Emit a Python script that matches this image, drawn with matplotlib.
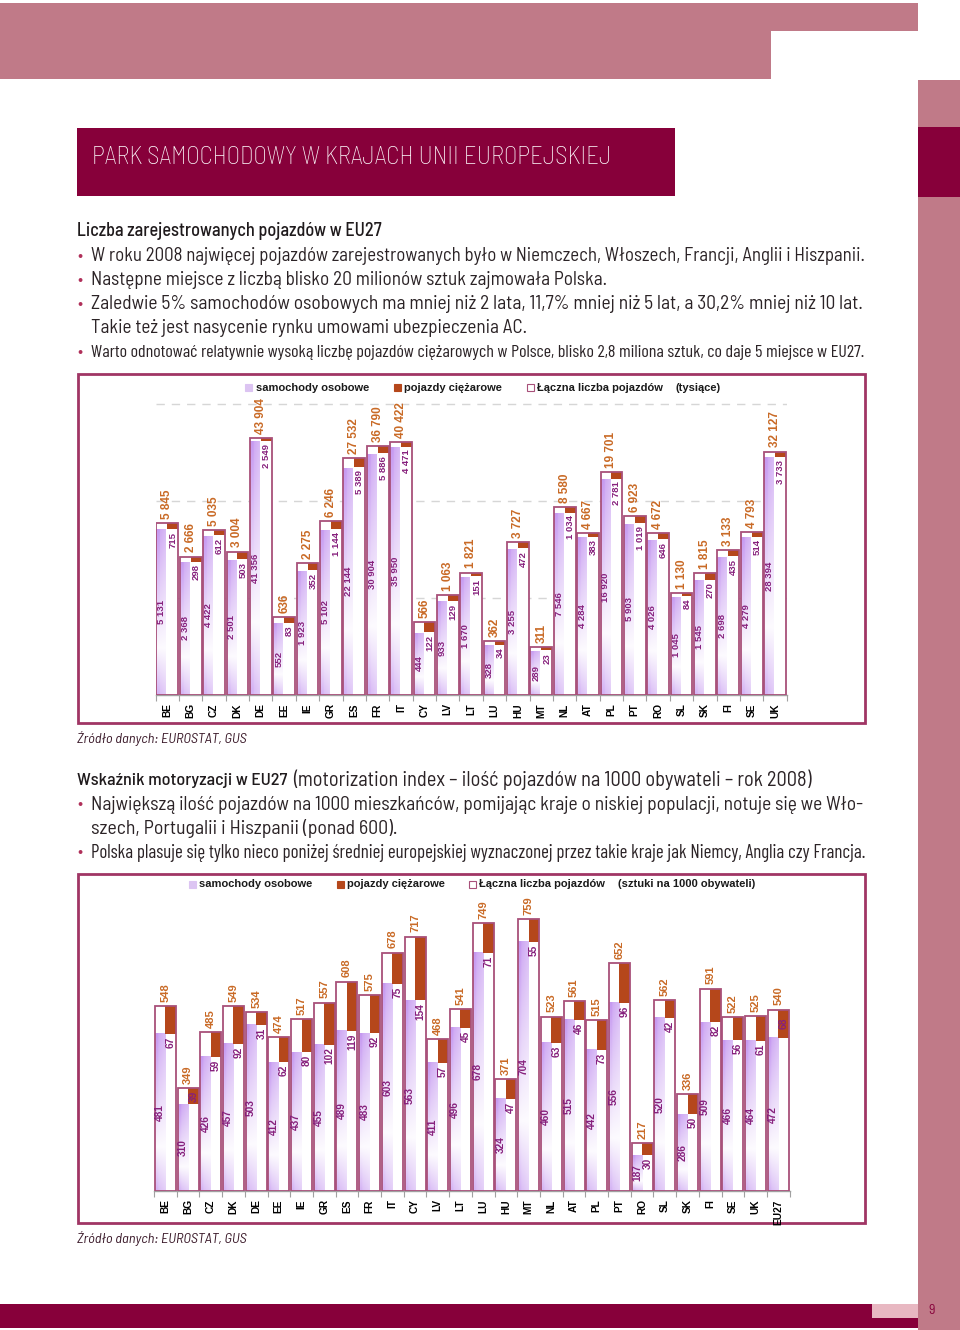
import numpy as np
import matplotlib
import matplotlib.pyplot as plt
from matplotlib.patches import Rectangle
from matplotlib.ticker import NullLocator

# --- dane: liczba pojazdow (tysiace) ---
kraje1 = ['BE', 'BG', 'CZ', 'DK', 'DE', 'EE', 'IE', 'GR', 'ES', 'FR', 'IT', 'CY', 'LV', 'LT',
          'LU', 'HU', 'MT', 'NL', 'AT', 'PL', 'PT', 'RO', 'SL', 'SK', 'FI', 'SE', 'UK']
razem1 = [5845, 2666, 5035, 3004, 43904, 636, 2275, 6246, 27532, 36790, 40422, 566, 1063, 1821,
          362, 3727, 311, 8580, 4667, 19701, 6923, 4672, 1130, 1815, 3133, 4793, 32127]
osobowe1 = [5131, 2368, 4422, 2501, 41356, 552, 1923, 5102, 22144, 30904, 35950, 444, 933, 1670,
            328, 3255, 289, 7546, 4284, 16920, 5903, 4026, 1045, 1545, 2698, 4279, 28394]
ciezarowe1 = [715, 298, 612, 503, 2549, 83, 352, 1144, 5389, 5886, 4471, 122, 129, 151,
              34, 472, 23, 1034, 383, 2781, 1019, 646, 84, 270, 435, 514, 3733]

# --- dane: wskaznik motoryzacji (na 1000 obywateli) ---
kraje2 = kraje1 + ['EU27']
razem2 = [548, 349, 485, 549, 534, 474, 517, 557, 608, 575, 678, 717, 468, 541,
          749, 371, 759, 523, 561, 515, 652, 217, 562, 336, 591, 522, 525, 540]
osobowe2 = [481, 310, 426, 457, 503, 412, 437, 455, 489, 483, 603, 563, 411, 496,
            678, 324, 704, 460, 515, 442, 556, 187, 520, 286, 509, 466, 464, 472]
ciezarowe2 = [67, 39, 59, 92, 31, 62, 80, 102, 119, 92, 75, 154, 57, 45,
              71, 47, 55, 63, 46, 73, 96, 30, 42, 50, 82, 56, 61, 68]

W, H = 960, 1330
ROZ = '#c07a88'
BORDO = '#87003a'
BRAZ = '#b5471b'
OBRYS = '#a8507a'
POMAR = '#c96a26'
FIOLET = '#86207c'
purple = np.array([196, 150, 240]) / 255.0

tekst_font = ['Barlow Semi Condensed', 'Roboto Condensed', 'Lato', 'DejaVu Sans']
waski_font = ['Barlow Condensed', 'Roboto Condensed', 'Liberation Sans Narrow', 'DejaVu Sans']
wykres_font = ['Liberation Sans', 'DejaVu Sans']

fig = plt.figure(figsize=(W / 100, H / 100), dpi=100)


def fx(x):
    return x / W


def fy(y):
    return 1 - y / H


def prost(x0, y0, x1, y1, color, fill=True, lw=0):
    r = Rectangle((fx(x0), fy(y1)), (x1 - x0) / W, (y1 - y0) / H, transform=fig.transFigure,
                  facecolor=color if fill else 'none', edgecolor=color if not fill else 'none',
                  lw=lw, zorder=0)
    fig.add_artist(r)
    return r


def napis(x, y, s, szer=None, **kw):
    kw.setdefault('family', tekst_font)
    kw.setdefault('va', 'center')
    t = fig.text(fx(x), fy(y), s, **kw)
    if szer:
        r = fig.canvas.get_renderer()
        w = t.get_window_extent(r).width
        t.set_fontsize(t.get_fontsize() * szer / w)
    return t


# --- elementy strony ---
prost(0, 3, 918, 31, ROZ)
prost(0, 30, 771, 79, ROZ)
prost(918, 80, 960, 1330, ROZ)
prost(918, 127, 960, 197, BORDO)
prost(77, 128, 675, 196, BORDO)
prost(0, 1304, 918, 1328, BORDO)
prost(872, 1304, 918, 1318, '#e8b8c2')
napis(932, 1311, '9', color=BORDO, fontsize=10, ha='center')

napis(92, 158, 'PARK SAMOCHODOWY W KRAJACH UNII EUROPEJSKIEJ', szer=520,
      color='white', fontsize=17, weight='light')

kolor_txt = '#2b2326'
napis(77, 231, 'Liczba zarejestrowanych pojazdów w EU27', szer=305, color='#1f1a1c',
      fontsize=12, weight='medium')
linie1 = [
    (256, 'W roku 2008 najwięcej pojazdów zarejestrowanych było w Niemczech, Włoszech, Francji, Anglii i Hiszpanii.', 775, True, tekst_font),
    (280, 'Następne miejsce z liczbą blisko 20 milionów sztuk zajmowała Polska.', 518, True, tekst_font),
    (304, 'Zaledwie 5% samochodów osobowych ma mniej niż 2 lata, 11,7% mniej niż 5 lat, a 30,2% mniej niż 10 lat.', 775, True, tekst_font),
    (328, 'Takie też jest nasycenie rynku umowami ubezpieczenia AC.', 436, False, tekst_font),
    (353, 'Warto odnotować relatywnie wysoką liczbę pojazdów ciężarowych w Polsce, blisko 2,8 miliona sztuk, co daje 5 miejsce w EU27.', 775, True, waski_font),
]
for y, s, w, kropka, rodz in linie1:
    if kropka:
        napis(80, y, '•', color='#b0305a', fontsize=12, ha='center')
    napis(91, y, s, szer=w, color=kolor_txt, fontsize=12, family=rodz)

zrodlo = 'Źródło danych: EUROSTAT, GUS'
napis(77, 739, zrodlo, szer=170, color='#3b1a2a', fontsize=10, style='italic')
napis(77, 1239, zrodlo, szer=170, color='#3b1a2a', fontsize=10, style='italic')

napis(77, 780, 'Wskaźnik motoryzacji w EU27', szer=210, color='#1f1a1c', fontsize=13, weight='medium')
napis(293, 780, '(motorization index – ilość pojazdów na 1000 obywateli – rok 2008)', szer=519,
      color=kolor_txt, fontsize=13)
linie2 = [
    (805, 'Największą ilość pojazdów na 1000 mieszkańców, pomijając kraje o niskiej populacji, notuje się we Wło-', 775, True, tekst_font),
    (829, 'szech, Portugalii i Hiszpanii (ponad 600).', 307, False, tekst_font),
    (853, 'Polska plasuje się tylko nieco poniżej średniej europejskiej wyznaczonej przez takie kraje jak Niemcy, Anglia czy Francja.', 775, True, waski_font),
]
for y, s, w, kropka, rodz in linie2:
    if kropka:
        napis(80, y, '•', color='#b0305a', fontsize=12, ha='center')
    napis(91, y, s, szer=w, color=kolor_txt, fontsize=12, family=rodz)

# ramki wykresow
prost(78, 374, 865, 723, '#a03565', fill=False, lw=2)
prost(78, 874, 865, 1223, '#a03565', fill=False, lw=2)


def legenda(y, x_kw, x_txt, opis, opis_x):
    etyk = ['samochody osobowe', 'pojazdy ciężarowe', 'Łączna liczba pojazdów']
    kolory = [('#dcc4f2', '#dcc4f2'), (BRAZ, BRAZ), ('white', OBRYS)]
    for xk, xt, e, (fc, ec) in zip(x_kw, x_txt, etyk, kolory):
        fig.add_artist(Rectangle((fx(xk), fy(y + 3.5)), 7 / W, 7 / H, transform=fig.transFigure,
                                 facecolor=fc, edgecolor=ec, lw=0.8))
        fig.text(fx(xt), fy(y), e, family=wykres_font, weight='bold', fontsize=8,
                 color='#1a1a1a', va='center')
    fig.text(fx(opis_x), fy(y), opis, family=wykres_font, weight='bold', fontsize=8,
             color='#1a1a1a', va='center')


legenda(388, [245, 394, 527], [256, 404, 537], '(tysiące)', 676)
legenda(884, [189, 337, 469], [199, 347, 479], '(sztuki na 1000 obywateli)', 618)


def gradient(ax, x0, x1, top, log):
    n = 1500 if log else 300
    v = np.linspace(100, top, n)
    if log:
        t = (np.log10(v) - 2) / (np.log10(top) - 2)
    else:
        t = (v - 100) / (top - 100)
    av = np.interp(t, [0, 0.28, 1], [0.72, 0.05, 0.97])
    ah = np.concatenate([np.full(3, 1.0), np.linspace(0.85, 0.65, 7)])
    a = av[:, None] * ah[None, :]
    img = 1 - a[..., None] * (1 - purple[None, None, :])
    ax.imshow(img, extent=[x0, x1, 100, top], origin='lower', aspect='auto',
              interpolation='bilinear', zorder=2)


def wykres(ax, kraje, razem, osobowe, ciezarowe, log, szer, wewnatrz, rozm):
    x = np.arange(len(kraje))
    razem = np.array(razem, float)
    osobowe = np.array(osobowe, float)
    ax.bar(x, razem - 100, bottom=100, width=szer, color='white', zorder=1)
    for i in x:
        gradient(ax, i - szer / 2, i, osobowe[i], log)
    ax.bar(x + szer / 4, razem - osobowe, bottom=osobowe, width=szer / 2, color=BRAZ, zorder=3)
    ax.bar(x, razem - 100, bottom=100, width=szer, fill=False, edgecolor=OBRYS, lw=1.3, zorder=4)
    for i in x:
        ax.annotate(f'{int(razem[i]):,}'.replace(',', ' '), (i, razem[i]), xytext=(0, 3),
                    textcoords='offset points', rotation=90, ha='center', va='bottom',
                    color=POMAR, fontsize=rozm[0], weight='bold', family=wykres_font, zorder=5)
        srodek = np.sqrt(100 * osobowe[i]) if log else (100 + osobowe[i]) / 2
        ax.text(i - szer / 4, srodek, f'{int(osobowe[i]):,}'.replace(',', ' '), rotation=90,
                ha='center', va='center', color=FIOLET, fontsize=rozm[1], weight='bold',
                family=wykres_font, zorder=5)
        s = f'{int(ciezarowe[i]):,}'.replace(',', ' ')
        if kraje[i] in wewnatrz:
            ax.text(i + szer / 4, (osobowe[i] + razem[i]) / 2, s, rotation=90, ha='center',
                    va='center', color=FIOLET, fontsize=rozm[1], weight='bold',
                    family=wykres_font, zorder=5)
        else:
            ax.annotate(s, (i + szer / 4, osobowe[i]), xytext=(0, -2), textcoords='offset points',
                        rotation=90, ha='center', va='top', color=FIOLET, fontsize=rozm[1],
                        weight='bold', family=wykres_font, zorder=5)
    ax.set_xlim(-0.5, len(kraje) - 0.5)
    ax.set_xticks(x)
    ax.set_xticklabels(kraje, rotation=90, family=wykres_font, fontsize=7.3, color='black',
                       weight='bold')
    ax.set_xticks(np.arange(-0.5, len(kraje)), minor=True)
    ax.tick_params(axis='x', which='major', length=0, pad=6)
    ax.tick_params(axis='x', which='minor', length=4, color='#a0a0a0', width=0.8)
    for sp in ['top', 'left', 'right']:
        ax.spines[sp].set_visible(False)
    ax.spines['bottom'].set_color('#a0a0a0')
    ax.spines['bottom'].set_linewidth(1)
    ax.set_facecolor('none')


# wykres 1 - skala logarytmiczna
ax1 = fig.add_axes([fx(155.6), fy(695), (786.7 - 155.6) / W, (695 - 385) / H])
ax1.set_yscale('log')
wykres(ax1, kraje1, razem1, osobowe1, ciezarowe1, True, 0.93, [], (8.5, 6.8))
ax1.set_ylim(100, 10 ** 5.193)
ax1.set_yticks([1000, 10000, 100000])
ax1.yaxis.set_minor_locator(NullLocator())
ax1.tick_params(axis='y', length=0, labelleft=False)
ax1.yaxis.grid(True, ls=(0, (6, 5)), color='#d6d6d6', lw=1)
ax1.set_axisbelow(True)

# wykres 2 - skala liniowa
ax2 = fig.add_axes([fx(154), fy(1191), (789.7 - 154) / W, (1191 - 885) / H])
wykres(ax2, kraje2, razem2, osobowe2, ciezarowe2, False, 0.925, ['BG', 'EU27'], (8, 7.3))
ax2.set_ylim(100, 842)
ax2.set_yticks([])

fig.savefig('out.png', dpi=100, facecolor='white')
